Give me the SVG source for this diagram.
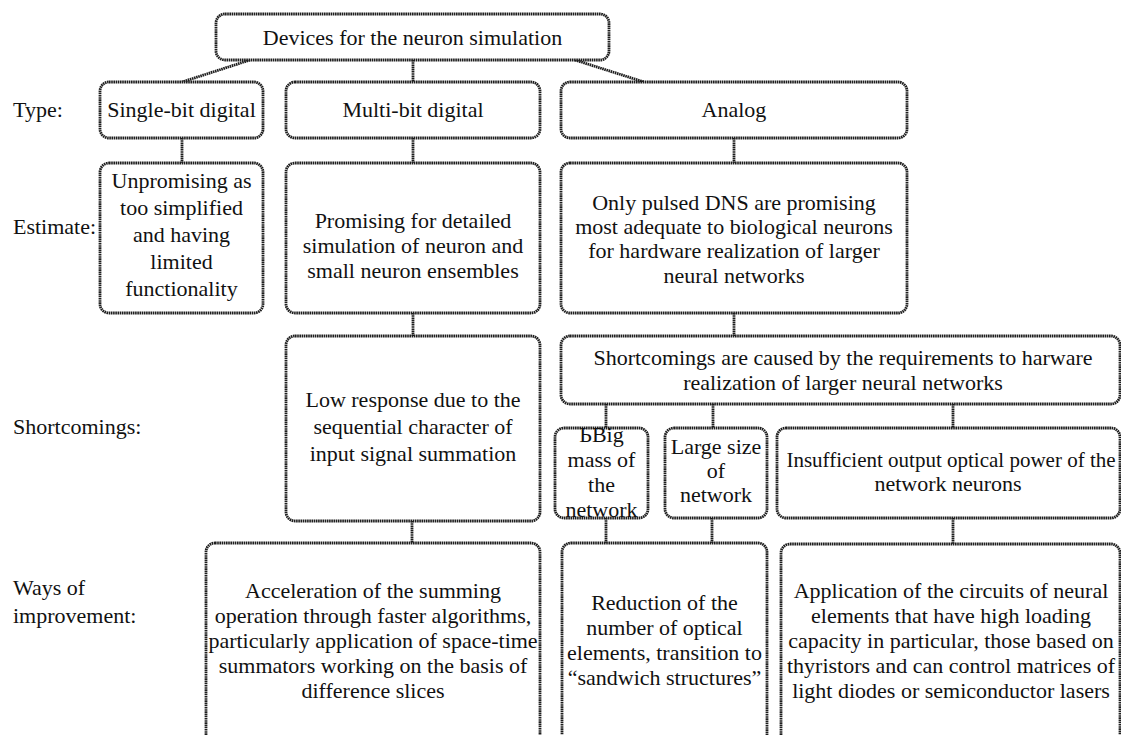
<svg xmlns="http://www.w3.org/2000/svg" width="1121" height="735" viewBox="0 0 1121 735">
  <defs>
    <style>
      .box { fill: #ffffff; stroke: #1e1e1e; stroke-width: 2.8; stroke-dasharray: 1.6 0.6; }
      .link { fill: none; stroke: #1e1e1e; stroke-width: 2.8; stroke-dasharray: 1.6 0.6; }
    </style>
  </defs>
  <rect width="1121" height="735" fill="#ffffff"/>

  <!-- connectors -->
  <g id="connectors">
    <line class="link" x1="250" y1="60" x2="182" y2="82"/>
    <line class="link" x1="413" y1="60" x2="413" y2="82"/>
    <line class="link" x1="575" y1="60" x2="644" y2="82"/>
    <line class="link" x1="182" y1="138" x2="182" y2="163"/>
    <line class="link" x1="413" y1="138" x2="413" y2="163"/>
    <line class="link" x1="734" y1="138" x2="734" y2="163"/>
    <line class="link" x1="413" y1="313" x2="413" y2="336"/>
    <line class="link" x1="734" y1="313" x2="734" y2="336"/>
    <line class="link" x1="606" y1="404" x2="606" y2="428"/>
    <line class="link" x1="713" y1="404" x2="713" y2="428"/>
    <line class="link" x1="953" y1="404" x2="953" y2="428"/>
    <line class="link" x1="412" y1="521" x2="412" y2="543"/>
    <line class="link" x1="606" y1="518" x2="606" y2="543"/>
    <line class="link" x1="712" y1="518" x2="712" y2="543"/>
    <line class="link" x1="953" y1="518" x2="953" y2="544"/>
  </g>

  <g font-family="Liberation Serif, serif" font-size="22" fill="#111111">
  <!-- row labels -->
  <g id="labels">
    <text x="13" y="117">Type:</text>
    <text x="13" y="234">Estimate:</text>
    <text x="13" y="434">Shortcomings:</text>
    <text x="13" y="595">Ways of</text>
    <text x="13" y="623">improvement:</text>
  </g>

  <g id="root" text-anchor="middle">
    <rect class="box" x="216" y="14" width="393" height="46" rx="9"/>
    <text x="412.5" y="45">Devices for the neuron simulation</text>
  </g>

  <!-- Type row -->
  <g id="single-bit" text-anchor="middle">
    <rect class="box" x="100" y="82" width="163" height="56" rx="9"/>
    <text x="181.5" y="117">Single-bit digital</text>
  </g>
  <g id="multi-bit" text-anchor="middle">
    <rect class="box" x="286" y="82" width="254" height="56" rx="9"/>
    <text x="413" y="117">Multi-bit digital</text>
  </g>
  <g id="analog" text-anchor="middle">
    <rect class="box" x="561" y="82" width="346" height="56" rx="9"/>
    <text x="734" y="117">Analog</text>
  </g>

  <!-- Estimate row -->
  <g id="estimate-single" text-anchor="middle">
    <rect class="box" x="100" y="163" width="163" height="150" rx="9"/>
    <text x="181.5" y="188">Unpromising as</text>
    <text x="181.5" y="215">too simplified</text>
    <text x="181.5" y="242">and having</text>
    <text x="181.5" y="269">limited</text>
    <text x="181.5" y="296">functionality</text>
  </g>
  <g id="estimate-multi" text-anchor="middle">
    <rect class="box" x="286" y="163" width="254" height="150" rx="9"/>
    <text x="413" y="228">Promising for detailed</text>
    <text x="413" y="253">simulation of neuron and</text>
    <text x="413" y="278">small neuron ensembles</text>
  </g>
  <g id="estimate-analog" text-anchor="middle">
    <rect class="box" x="561" y="163" width="346" height="150" rx="9"/>
    <text x="734" y="210">Only pulsed DNS are promising</text>
    <text x="734" y="234">most adequate to biological neurons</text>
    <text x="734" y="258">for hardware realization of larger</text>
    <text x="734" y="283">neural networks</text>
  </g>

  <!-- Shortcomings row -->
  <g id="short-multi" text-anchor="middle">
    <rect class="box" x="286" y="336" width="254" height="185" rx="9"/>
    <text x="413" y="407">Low response due to the</text>
    <text x="413" y="434">sequential character of</text>
    <text x="413" y="461">input signal summation</text>
  </g>
  <g id="short-analog" text-anchor="middle">
    <rect class="box" x="561" y="336" width="559" height="68" rx="9"/>
    <text x="843" y="365">Shortcomings are caused by the requirements to harware</text>
    <text x="843" y="390">realization of larger neural networks</text>
  </g>
  <g id="short-mass" text-anchor="middle">
    <rect class="box" x="555" y="428" width="93" height="90" rx="9"/>
    <text x="601.5" y="442">&#1068;Big</text>
    <text x="601.5" y="467">mass of</text>
    <text x="601.5" y="492">the</text>
    <text x="601.5" y="517">network</text>
  </g>
  <g id="short-size" text-anchor="middle">
    <rect class="box" x="665" y="428" width="102" height="90" rx="9"/>
    <text x="716" y="454">Large size</text>
    <text x="716" y="478">of</text>
    <text x="716" y="502">network</text>
  </g>
  <g id="short-power" text-anchor="middle">
    <rect class="box" x="777" y="428" width="343" height="90" rx="9"/>
    <text x="951" y="467" font-size="21">Insufficient output optical power of the</text>
    <text x="948" y="491">network neurons</text>
  </g>

  <!-- Ways of improvement row (boxes run past the lower edge) -->
  <g id="way-multi" text-anchor="middle">
    <rect class="box" x="206" y="543" width="334" height="230" rx="9"/>
    <text x="373" y="598">Acceleration of the summing</text>
    <text x="373" y="623">operation through faster algorithms,</text>
    <text x="373" y="648">particularly application of space-time</text>
    <text x="373" y="673">summators working on the basis of</text>
    <text x="373" y="698">difference slices</text>
  </g>
  <g id="way-optics" text-anchor="middle">
    <rect class="box" x="562" y="543" width="205" height="230" rx="9"/>
    <text x="664.5" y="610">Reduction of the</text>
    <text x="664.5" y="635">number of optical</text>
    <text x="664.5" y="660">elements, transition to</text>
    <text x="664.5" y="685">&#8220;sandwich structures&#8221;</text>
  </g>
  <g id="way-power" text-anchor="middle">
    <rect class="box" x="781" y="544" width="339" height="230" rx="9"/>
    <text x="951" y="598">Application of the circuits of neural</text>
    <text x="951" y="623">elements that have high loading</text>
    <text x="951" y="648">capacity in particular, those based on</text>
    <text x="951" y="673">thyristors and can control matrices of</text>
    <text x="951" y="698">light diodes or semiconductor lasers</text>
  </g>
  </g>
</svg>
